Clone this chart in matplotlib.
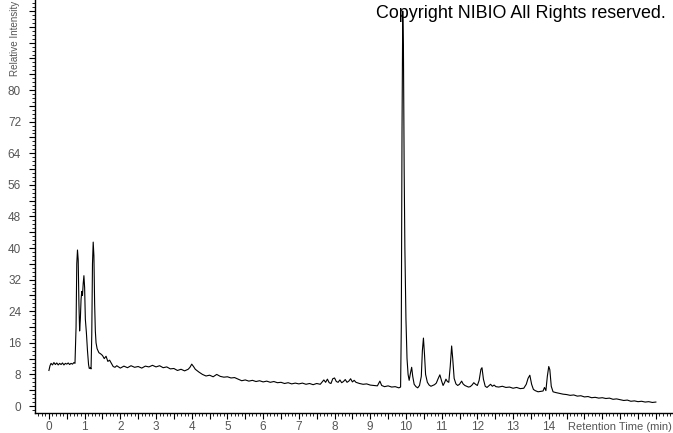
import matplotlib
matplotlib.use("Agg")
import matplotlib.pyplot as plt
from matplotlib.ticker import MultipleLocator, FuncFormatter

# retention time (min) and relative intensity
rt = [
    0.00, 0.03, 0.06, 0.10, 0.14, 0.18, 0.22, 0.26, 0.30, 0.34, 0.38, 0.42,
    0.46, 0.50, 0.54, 0.58, 0.62, 0.66, 0.70, 0.73,
    0.76, 0.78, 0.80, 0.82, 0.84, 0.86, 0.88, 0.90, 0.92, 0.94, 0.96, 0.98,
    1.00, 1.02, 1.05, 1.08, 1.11, 1.13, 1.16, 1.18, 1.20, 1.22, 1.24, 1.26,
    1.28, 1.30, 1.32, 1.35, 1.40, 1.45, 1.50, 1.55, 1.60, 1.65, 1.70, 1.75,
    1.80, 1.85, 1.90,
    2.0, 2.1, 2.2, 2.3, 2.4, 2.5, 2.6, 2.7, 2.8, 2.9, 3.0, 3.1, 3.2, 3.3,
    3.4, 3.5, 3.6, 3.7, 3.8, 3.9, 3.95, 4.0, 4.05, 4.1, 4.2, 4.3, 4.4, 4.5,
    4.6, 4.7, 4.8, 4.9, 5.0, 5.1, 5.2, 5.3, 5.4, 5.5, 5.6, 5.7, 5.8, 5.9,
    6.0, 6.1, 6.2, 6.3, 6.4, 6.5, 6.6, 6.7, 6.8, 6.9, 7.0, 7.1, 7.2, 7.3,
    7.4, 7.5, 7.6, 7.7, 7.75, 7.8, 7.85, 7.9, 7.95, 8.0, 8.05, 8.1, 8.15,
    8.2, 8.25, 8.3, 8.35, 8.4, 8.45, 8.5, 8.55, 8.6, 8.7, 8.8, 8.9, 9.0,
    9.1, 9.2, 9.27, 9.32, 9.4, 9.5, 9.6, 9.7, 9.8, 9.85,
    9.87, 9.89, 9.91, 9.93, 9.95, 9.97, 10.00, 10.03, 10.06, 10.09, 10.13,
    10.16, 10.19, 10.23, 10.28, 10.33, 10.38, 10.43, 10.46, 10.49, 10.52,
    10.55, 10.6, 10.65, 10.7, 10.75, 10.8, 10.85, 10.9, 10.95, 11.0, 11.04,
    11.08, 11.12, 11.16, 11.2, 11.24, 11.28, 11.31, 11.35, 11.4, 11.45,
    11.5, 11.56, 11.6, 11.65, 11.7, 11.75, 11.8, 11.85, 11.9, 11.95, 12.0,
    12.05, 12.1, 12.13, 12.17, 12.22, 12.27, 12.32, 12.37, 12.42, 12.47,
    12.52, 12.6, 12.7, 12.8, 12.9, 13.0, 13.1, 13.2, 13.3, 13.37, 13.42,
    13.47, 13.52, 13.57, 13.62, 13.7, 13.78, 13.84, 13.88, 13.92, 13.96,
    14.0, 14.03, 14.07, 14.12, 14.2, 14.3, 14.4, 14.5, 14.6, 14.7, 14.8,
    14.9, 15.0, 15.1, 15.2, 15.3, 15.4, 15.5, 15.6, 15.7, 15.8, 15.9, 16.0,
    16.1, 16.2, 16.3, 16.4, 16.5, 16.6, 16.7, 16.8, 16.9, 17.0,
]
intensity = [
    9.0, 10.2, 10.8, 10.4, 11.0, 10.5, 10.9, 10.4, 10.8, 10.5, 10.9, 10.4,
    10.8, 10.6, 10.9, 10.5, 10.8, 10.6, 11.0, 10.8,
    20.0, 36.0, 39.5, 37.0, 26.0, 19.0, 22.0, 27.0, 29.0, 28.0, 31.0, 33.0,
    30.0, 22.0, 18.5, 14.0, 10.5, 9.5, 9.7, 9.4, 18.0, 36.0, 41.5, 38.0,
    26.0, 19.0, 16.0, 14.5, 13.5, 13.2, 12.8, 12.0, 12.6, 11.3, 11.6, 10.8,
    10.0, 9.8, 10.2,
    9.6, 10.1, 9.7, 10.2, 9.8, 10.0, 9.6, 10.1, 9.9, 10.3, 9.9, 10.2, 9.7, 9.9,
    9.4, 9.5, 9.0, 9.3, 8.9, 9.3, 9.8, 10.6, 10.0, 9.3, 8.6, 8.0, 7.6, 7.8,
    7.4, 8.0, 7.5, 7.3, 7.4, 7.1, 7.2, 6.8, 6.4, 6.6, 6.3, 6.5, 6.2, 6.4,
    6.1, 6.3, 6.0, 6.2, 5.9, 6.0, 5.7, 5.9, 5.6, 5.8, 5.6, 5.8, 5.5, 5.7,
    5.4, 5.7, 5.5, 6.6, 6.0, 6.8, 5.9, 5.7, 6.9, 7.1, 6.2, 6.0, 6.6,
    5.9, 6.2, 6.7, 6.0, 6.3, 6.9, 6.1, 6.5, 6.0, 5.7, 5.5, 5.6, 5.3,
    5.2, 5.1, 6.3, 5.2, 4.9, 5.1, 4.8, 4.9, 4.6, 4.8,
    20.0, 70.0, 100.0, 90.0, 60.0, 40.0, 22.0, 12.0, 8.0, 6.5, 8.5,
    9.8, 7.5, 5.5, 4.9, 4.6, 5.2, 7.5, 14.0, 17.2, 13.0,
    8.0, 6.0, 5.3, 5.0, 5.2, 5.4, 5.8, 6.9, 7.9, 6.3, 5.2,
    5.9, 6.8, 6.2, 6.0, 10.0, 15.2, 12.0, 7.0, 5.6, 5.2,
    5.5, 6.3, 5.6, 5.2, 5.0, 4.8, 4.9, 5.3, 5.9, 5.5, 5.2,
    6.5, 9.3, 9.7, 6.8, 5.0, 4.7, 5.1, 5.5, 5.0, 5.3,
    4.9, 4.8, 5.0, 4.7, 4.8, 4.5, 4.7, 4.4, 4.5, 5.5, 7.0,
    7.8, 5.5, 4.2, 3.9, 3.6, 3.7, 3.8, 4.7, 3.9, 7.5,
    10.0, 9.2, 5.0, 3.6, 3.4, 3.2, 3.0, 2.9, 2.7, 2.8, 2.5,
    2.6, 2.3, 2.4, 2.1, 2.2, 2.0, 2.1, 1.9, 2.0, 1.7, 1.8, 1.6,
    1.4, 1.5, 1.2, 1.3, 1.1, 1.2, 1.0, 1.1, 0.9, 1.0,
]

y_labels = [0, 8, 16, 24, 32, 40, 48, 56, 64, 72, 80]
x_labels = list(range(0, 15))

plt.rcParams["font.family"] = ["Liberation Sans", "DejaVu Sans"]

fig = plt.figure(figsize=(6.73, 4.33), dpi=100)
ax = fig.add_axes([35 / 673, 20 / 433, 638 / 673, 413 / 433])

ax.plot(rt, intensity, color="black", linewidth=0.8)

ax.set_xlim(-0.39, 17.48)
ax.set_ylim(-1.77, 102.8)

for side in ("top", "right"):
    ax.spines[side].set_visible(False)
for side in ("left", "bottom"):
    ax.spines[side].set_linewidth(1.0)

label_color = "#555555"

ax.yaxis.set_major_locator(MultipleLocator(4))
ax.yaxis.set_minor_locator(MultipleLocator(1))
ax.yaxis.set_major_formatter(FuncFormatter(
    lambda v, p: f"{int(round(v))}" if int(round(v)) in y_labels else ""))
ax.xaxis.set_major_locator(MultipleLocator(0.5))
ax.xaxis.set_minor_locator(MultipleLocator(0.1))
ax.xaxis.set_major_formatter(FuncFormatter(
    lambda v, p: f"{int(round(v))}" if abs(v - round(v)) < 1e-6 and int(round(v)) in x_labels else ""))

ax.tick_params(which="major", direction="out", length=4.0, width=0.8,
               labelsize=8.5, labelcolor=label_color)
ax.tick_params(which="minor", direction="out", length=2.2, width=0.6)
ax.tick_params(axis="y", which="major", pad=6)
ax.tick_params(axis="x", which="major", pad=1.5)

fig.text(376 / 673, 1 - 14 / 433, "Copyright NIBIO All Rights reserved.",
         fontsize=12.9, color="black", ha="left", va="center")
fig.text(15 / 673, 1 - 1 / 433, "Relative Intensity", rotation=90,
         fontsize=7.1, color=label_color, ha="center", va="top")
fig.text(672 / 673, 1 - 427 / 433, "Retention Time (min)",
         fontsize=8, color=label_color, ha="right", va="center")

fig.savefig("out.png", dpi=100)
